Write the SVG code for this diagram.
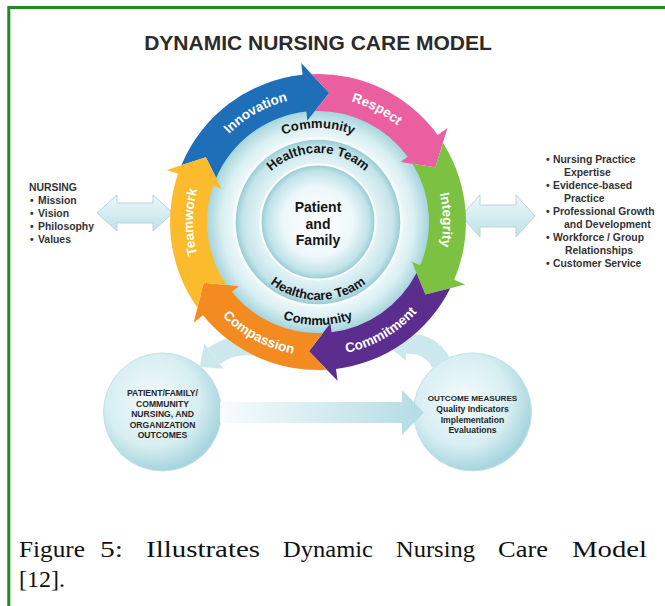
<svg xmlns="http://www.w3.org/2000/svg" width="665" height="606" viewBox="0 0 665 606">
<style>
.lbl{font-family:"Liberation Sans",Arial,sans-serif;font-weight:bold;font-size:13.5px;fill:#ffffff}
.inr{font-family:"Liberation Sans",Arial,sans-serif;font-weight:bold;font-size:13px;fill:#151515}
.ctr{font-family:"Liberation Sans",Arial,sans-serif;font-weight:bold;font-size:14px;fill:#151515}
.side{font-family:"Liberation Sans",Arial,sans-serif;font-weight:bold;font-size:10.4px;fill:#333333}
.cir{font-family:"Liberation Sans",Arial,sans-serif;font-weight:bold;font-size:8.6px;fill:#262626}
.cap{font-family:"Liberation Serif","Times New Roman",serif;font-size:24px;fill:#111111}
.blk{fill:url(#gArr);stroke:#b7d5dc;stroke-width:1}
.curve{fill:none;stroke:#cde8ed;stroke-width:20}
.curvehead{fill:#cde8ed}
</style>
<defs>
<radialGradient id="gCom" cx="318" cy="222" r="112" gradientUnits="userSpaceOnUse">
<stop offset="0" stop-color="#ffffff"/><stop offset="0.72" stop-color="#f3fafb"/><stop offset="0.86" stop-color="#d9eff2"/><stop offset="1" stop-color="#a2d3db"/>
</radialGradient>
<radialGradient id="gHc" cx="318" cy="222" r="84" gradientUnits="userSpaceOnUse">
<stop offset="0" stop-color="#ffffff"/><stop offset="0.66" stop-color="#e9f6f8"/><stop offset="0.9" stop-color="#c4e4ea"/><stop offset="1" stop-color="#8ec5ce"/>
</radialGradient>
<radialGradient id="gPat" cx="318" cy="222" r="58" gradientUnits="userSpaceOnUse">
<stop offset="0" stop-color="#ffffff"/><stop offset="0.6" stop-color="#eef8fa"/><stop offset="0.88" stop-color="#c0e3e9"/><stop offset="1" stop-color="#90c7d0"/>
</radialGradient>
<radialGradient id="gBall" cx="0.42" cy="0.4" r="0.6">
<stop offset="0" stop-color="#f4fbfc"/><stop offset="0.65" stop-color="#d7eef2"/><stop offset="1" stop-color="#a6d5dd"/>
</radialGradient>
<linearGradient id="gArr" x1="0" y1="0" x2="0" y2="1">
<stop offset="0" stop-color="#eef8fa"/><stop offset="1" stop-color="#bde1e8"/>
</linearGradient>
<linearGradient id="gFlow" x1="220" y1="0" x2="424" y2="0" gradientUnits="userSpaceOnUse">
<stop offset="0" stop-color="#f7fcfd"/><stop offset="1" stop-color="#b3dce4"/>
</linearGradient>
<path id="tInnov" d="M194.9,200.3 A125,125 0 0 1 350.35,101.26"/>
<path id="tResp" d="M275.25,104.54 A125,125 0 0 1 438.74,189.65"/>
<path id="tInteg" d="M406.39,133.61 A125,125 0 0 1 409.42,307.25"/>
<path id="tCommit" d="M283.32,351.43 A134,134 0 0 0 447.43,256.68"/>
<path id="tCompas" d="M188.57,256.68 A134,134 0 0 0 361.63,348.70"/>
<path id="tTeam" d="M237.65,317.75 A125,125 0 0 1 237.65,126.25"/>
<path id="tComTop" d="M236.60,175.0 A94,94 0 0 1 399.40,175.0"/>
<path id="tHcTop" d="M249.26,215.99 A69,69 0 0 1 386.74,215.99"/>
<path id="tHcBot" d="M240.30,228.80 A78,78 0 0 0 395.70,228.80"/>
<path id="tComBot" d="M221.21,257.23 A103,103 0 0 0 414.79,257.23"/>
</defs>

<rect x="0" y="0" width="665" height="606" fill="#ffffff"/>
<path d="M8.8,606 V7.5 H665" fill="none" stroke="#1e8c1e" stroke-width="3"/>

<g id="title">
<text x="318" y="50" text-anchor="middle" font-family="'Liberation Sans',Arial,sans-serif" font-weight="bold" font-size="21" fill="#2b2b2b">DYNAMIC NURSING CARE MODEL</text>
</g>

<g id="node-outcomes">
<circle cx="162.5" cy="412" r="59" fill="url(#gBall)" stroke="#c3e2e8" stroke-width="1"/>
<text class="cir" text-anchor="middle"><tspan x="162.5" y="396">PATIENT/FAMILY/</tspan><tspan x="162.5" y="406.5">COMMUNITY</tspan><tspan x="162.5" y="417">NURSING, AND</tspan><tspan x="162.5" y="427.5">ORGANIZATION</tspan><tspan x="162.5" y="438">OUTCOMES</tspan></text>
</g>

<g id="node-measures">
<circle cx="472.5" cy="412" r="59" fill="url(#gBall)" stroke="#c3e2e8" stroke-width="1"/>
<text class="cir" text-anchor="middle"><tspan x="472.5" y="401" font-size="8.1">OUTCOME MEASURES</tspan><tspan x="472.5" y="412">Quality Indicators</tspan><tspan x="472.5" y="422.5">Implementation</tspan><tspan x="472.5" y="433">Evaluations</tspan></text>
</g>

<g id="connectors">
<path class="blk" d="M97,213 L117,195 L117,203 L153,203 L153,195 L173,213 L153,231 L153,223 L117,223 L117,231 Z"/>
<path class="blk" d="M461,216 L480,195 L480,205 L516,205 L516,195 L535,216 L516,237 L516,227 L480,227 L480,237 Z"/>
<path d="M220,402 L402,402 L402,390 L424,412.5 L402,435 L402,423 L220,423 Z" fill="url(#gFlow)"/>
<path class="curve" d="M270,350 Q238,338 214,356"/>
<polygon class="curvehead" points="223.7,368.7 199.7,366.9 204.3,343.3"/>
<path class="curve" d="M441,363 Q430,342 405,344"/>
<polygon class="curvehead" points="403.7,327 387.1,345.3 406.3,360.9"/>
</g>

<g id="node-community">
<circle cx="318" cy="222" r="112" fill="url(#gCom)"/>
<text class="inr"><textPath href="#tComTop" startOffset="50%" text-anchor="middle">Community</textPath></text>
<text class="inr"><textPath href="#tComBot" startOffset="50%" text-anchor="middle">Community</textPath></text>
</g>

<g id="node-healthcare">
<circle cx="318" cy="222" r="83.5" fill="url(#gHc)" stroke="#f6fcfd" stroke-width="2.5"/>
<text class="inr"><textPath href="#tHcTop" startOffset="50%" text-anchor="middle">Healthcare Team</textPath></text>
<text class="inr"><textPath href="#tHcBot" startOffset="50%" text-anchor="middle">Healthcare Team</textPath></text>
</g>

<g id="node-patient">
<circle cx="318" cy="222" r="57.5" fill="url(#gPat)" stroke="#ffffff" stroke-width="2"/>
<text class="ctr" text-anchor="middle"><tspan x="318" y="212">Patient</tspan><tspan x="318" y="228.5">and</tspan><tspan x="318" y="245">Family</tspan></text>
</g>

<g id="node-innovation">
<path fill="#1e6fb8" d="M181.39,165.16 A148,148 0 0 1 302.53,74.81 L301.28,62.88 L329.29,92.99 L307.34,120.56 L306.40,111.61 A111,111 0 0 0 216.14,177.91 L205.85,157.25 Z"/>
<text class="lbl"><textPath href="#tInnov" startOffset="53%" text-anchor="middle">Innovation</textPath></text>
</g>

<g id="node-respect">
<path fill="#ea5f9f" d="M311.78,74.17 A148,148 0 0 1 437.73,135.01 L447.44,127.95 L435.37,167.27 L400.52,162.04 L407.80,156.75 A111,111 0 0 0 314.91,111.05 L329.29,92.99 Z"/>
<text class="lbl"><textPath href="#tResp" startOffset="50%" text-anchor="middle">Respect</textPath></text>
</g>

<g id="node-integrity">
<path fill="#7cc142" d="M442.91,142.70 A148,148 0 0 1 454.23,279.82 L465.28,284.51 L425.36,294.42 L411.89,261.85 L420.18,265.37 A111,111 0 0 0 412.54,163.84 L435.37,167.27 Z"/>
<text class="lbl"><textPath href="#tInteg" startOffset="50%" text-anchor="middle">Integrity</textPath></text>
</g>

<g id="node-commitment">
<path fill="#5a2d8e" d="M450.31,288.23 A148,148 0 0 1 336.04,368.89 L337.50,380.80 L308.96,351.19 L330.43,323.24 L331.53,332.17 A111,111 0 0 0 416.54,273.09 L425.36,294.42 Z"/>
<text class="lbl"><textPath href="#tCommit" startOffset="50%" text-anchor="middle">Commitment</textPath></text>
</g>

<g id="node-compassion">
<path fill="#f48b20" d="M326.80,369.70 A148,148 0 0 1 202.99,315.14 L193.66,322.69 L203.66,282.80 L238.74,286.19 L231.74,291.85 A111,111 0 0 0 323.02,332.88 L308.96,351.19 Z"/>
<text class="lbl"><textPath href="#tCompas" startOffset="50%" text-anchor="middle">Compassion</textPath></text>
</g>

<g id="node-teamwork">
<path fill="#fbbb2d" d="M197.41,307.73 A148,148 0 0 1 178.07,173.81 L166.72,169.90 L205.85,157.25 L221.56,188.79 L213.05,185.86 A111,111 0 0 0 226.64,285.02 L203.66,282.80 Z"/>
<text class="lbl"><textPath href="#tTeam" startOffset="50%" text-anchor="middle">Teamwork</textPath></text>
</g>

<g id="node-nursing">
<text class="side"><tspan x="29" y="191">NURSING</tspan><tspan x="30" y="204">•</tspan><tspan x="38" y="204">Mission</tspan><tspan x="30" y="217">•</tspan><tspan x="38" y="217">Vision</tspan><tspan x="30" y="230">•</tspan><tspan x="38" y="230">Philosophy</tspan><tspan x="30" y="243">•</tspan><tspan x="38" y="243">Values</tspan></text>
</g>

<g id="node-practice">
<text class="side"><tspan x="546" y="163">•</tspan><tspan x="553" y="163">Nursing Practice</tspan><tspan x="564" y="176">Expertise</tspan><tspan x="546" y="189">•</tspan><tspan x="553" y="189">Evidence-based</tspan><tspan x="564" y="202">Practice</tspan><tspan x="546" y="215">•</tspan><tspan x="553" y="215">Professional Growth</tspan><tspan x="564" y="228">and Development</tspan><tspan x="546" y="241">•</tspan><tspan x="553" y="241">Workforce / Group</tspan><tspan x="565" y="254">Relationships</tspan><tspan x="546" y="267">•</tspan><tspan x="553" y="267">Customer Service</tspan></text>
</g>

<g id="caption">
<text class="cap" y="557" x="19" textLength="66" lengthAdjust="spacingAndGlyphs">Figure</text>
<text class="cap" y="557" x="100" textLength="23" lengthAdjust="spacingAndGlyphs">5:</text>
<text class="cap" y="557" x="146" textLength="114" lengthAdjust="spacingAndGlyphs">Illustrates</text>
<text class="cap" y="557" x="283" textLength="90" lengthAdjust="spacingAndGlyphs">Dynamic</text>
<text class="cap" y="557" x="396" textLength="79" lengthAdjust="spacingAndGlyphs">Nursing</text>
<text class="cap" y="557" x="498" textLength="50" lengthAdjust="spacingAndGlyphs">Care</text>
<text class="cap" y="557" x="572" textLength="75" lengthAdjust="spacingAndGlyphs">Model</text>
<text class="cap" y="587" x="19">[12].</text>
</g>
</svg>
